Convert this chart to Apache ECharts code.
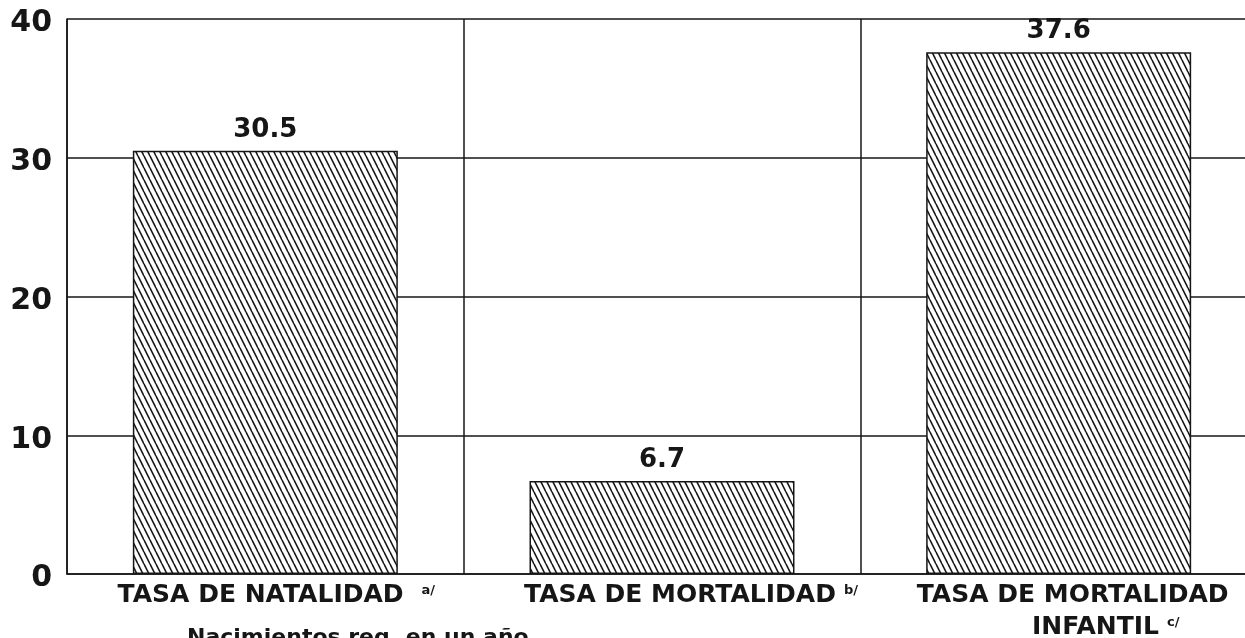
<!DOCTYPE html>
<html>
<head>
<meta charset="utf-8">
<script src="https://cdn.jsdelivr.net/npm/echarts@6/dist/echarts.min.js"></script>
<style>
  html, body { margin: 0; padding: 0; background: #fff; }
  #chart { width: 1245px; height: 638px; }
</style>
</head>
<body>
<div id="chart"></div>
<script>
const categories = ["TASA DE NATALIDAD", "TASA DE MORTALIDAD", "TASA DE MORTALIDAD\nINFANTIL"];
const notes = ["a/", "b/", "c/"];
const values = [30.5, 6.7, 37.6];
const yTicks = [0, 10, 20, 30, 40];
const footnote = "Nacimientos reg. en un año";

// how far each label sits right of its category centre (px), per line
const labelShift = [[11], [29], [14, 47]];

const FONT = "DejaVu Sans";
const INK = "#161616";

function hatch() {
  const c = document.createElement("canvas");
  c.width = 6;
  c.height = 12;
  const ctx = c.getContext("2d");
  ctx.fillStyle = "#fff";
  ctx.fillRect(0, 0, 6, 12);
  ctx.strokeStyle = INK;
  ctx.lineWidth = 1.6;
  for (const dx of [-6, 0, 6]) {
    ctx.beginPath();
    ctx.moveTo(dx, 0);
    ctx.lineTo(dx + 6, 12);
    ctx.stroke();
  }
  return c;
}

const chart = echarts.init(document.getElementById("chart"), null, { renderer: "canvas" });

const option = {
  animation: false,
  backgroundColor: "#fff",
  // the plot runs a little past the right edge of the page
  grid: { left: 67, width: 1190, top: 19, bottom: 64, outerBoundsMode: "none", containLabel: false },
  xAxis: {
    type: "category",
    data: categories,
    axisLine: { lineStyle: { color: INK, width: 1.5 } },
    axisTick: { show: true, inside: true, alignWithLabel: true, length: 6, lineStyle: { color: INK } },
    splitLine: { show: true, interval: 0, lineStyle: { color: INK, width: 1.5 } },
    axisLabel: {
      interval: 0,
      margin: 5,
      formatter: function (value, idx) {
        const lines = value.split("\n");
        return lines
          .map(function (line, li) {
            const tag = "p" + idx + "_" + li;
            let s = "{" + tag + "|" + line + "}";
            if (li === lines.length - 1) s += "{s" + idx + "|" + notes[idx] + "}";
            return s;
          })
          .join("\n");
      },
      rich: (function () {
        const r = {};
        const noteGap = [18, 8, 8];
        labelShift.forEach(function (shifts, i) {
          shifts.forEach(function (sh, li) {
            r["p" + i + "_" + li] = {
              fontFamily: FONT, fontWeight: "bold", fontSize: 25, color: INK,
              lineHeight: 32, padding: [0, 0, 0, sh * 2]
            };
          });
          r["s" + i] = {
            fontFamily: FONT, fontWeight: "bold", fontSize: 13, color: INK,
            verticalAlign: "top", lineHeight: 14, padding: [5, 0, 0, noteGap[i]]
          };
        });
        return r;
      })()
    }
  },
  yAxis: {
    type: "value",
    min: yTicks[0],
    max: yTicks[yTicks.length - 1],
    interval: 10,
    axisLine: { show: true, lineStyle: { color: INK, width: 1.5 } },
    axisTick: { show: false },
    splitLine: { show: true, lineStyle: { color: INK, width: 1.5 } },
    axisLabel: {
      margin: 15,
      formatter: "{v|{value}}",
      rich: {
        v: { fontFamily: FONT, fontWeight: "bold", fontSize: 30, color: INK, padding: [9, 0, 0, 0] }
      }
    }
  },
  graphic: [
    {
      type: "text",
      left: 187,
      top: 627,
      style: {
        text: footnote,
        fontFamily: FONT,
        fontWeight: "bold",
        fontSize: 22,
        fill: INK
      }
    }
  ],
  series: [
    {
      type: "bar",
      data: values,
      barWidth: 265,
      itemStyle: {
        color: { image: hatch(), repeat: "repeat" },
        borderColor: INK,
        borderWidth: 1.5
      },
      label: {
        show: true,
        position: "top",
        distance: 8,
        fontFamily: FONT,
        fontWeight: "bold",
        fontSize: 26,
        color: INK
      }
    }
  ]
};

chart.setOption(option);
</script>
</body>
</html>
